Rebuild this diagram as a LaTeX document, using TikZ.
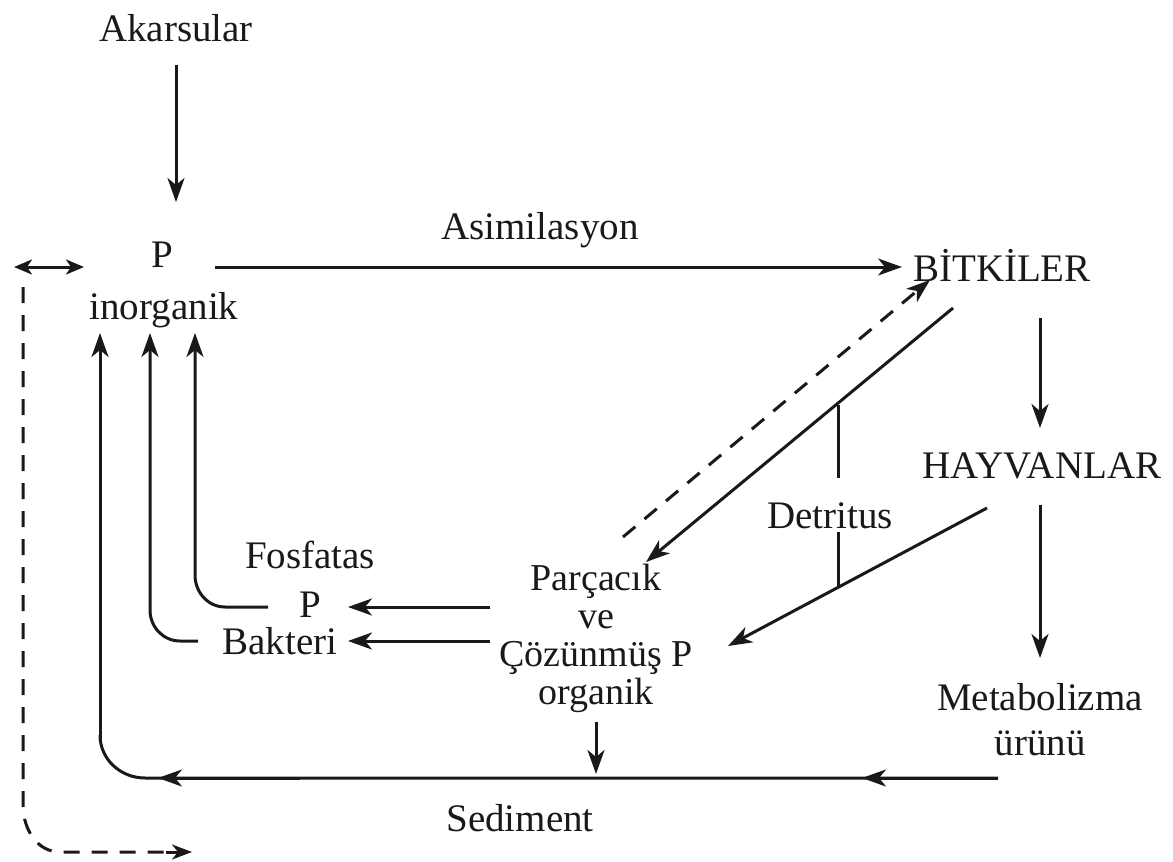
\documentclass[tikz,border=0pt]{standalone}
\usepackage{fontspec}
\setmainfont{Liberation Serif}
\usetikzlibrary{arrows.meta}
\begin{document}
\begin{tikzpicture}[x=1pt,y=-1pt,
  lbl/.style={font=\fontsize{39}{35}\selectfont, inner sep=0pt, align=center, text=black!90},
  tip/.tip={Stealth[length=24pt,width=17pt,inset=7pt]},
  flow/.style={line width=3pt, draw=black!90, -tip},
  plain/.style={line width=3pt, draw=black!90},
  dsh/.style={line width=3pt, draw=black!90, dash pattern=on 16pt off 12pt}]
\useasboundingbox (0,0) rectangle (1173,862);
% texts
\node[lbl] (akar) at (176,28) {Akarsular};
\node[lbl] (Pin) at (162,255) {P};
\node[lbl] (inorg) at (164,310) {inorganik};
\node[lbl] (asim) at (540,230) {Asimilasyon};
\node[lbl] (bit) at (1002,265) {BİTKİLER};
\node[lbl] (hay) at (1042,466) {HAYVANLAR};
\node[lbl] (meta) at (1040,720) {Metabolizma\\[10pt]ürünü};
\node[lbl] (det) at (830,516) {Detritus};
\node[lbl, font=\fontsize{38}{38}\selectfont] (org) at (596,638) {Parçacık\\ve\\Çözünmüş P\\organik};
\node[lbl] (fos) at (310,555) {Fosfatas};
\node[lbl] (Pf) at (310,605) {P};
\node[lbl] (bak) at (280,641) {Bakteri};
\node[lbl] (sed) at (520,818) {Sediment};
% coordinates
\coordinate (a1) at (176,65);
\coordinate (a2) at (176,202);
\coordinate (h1) at (215,267);
\coordinate (h2) at (902,267);
\coordinate (b1) at (1040,318);
\coordinate (b2) at (1040,428);
\coordinate (c1) at (1040,505);
\coordinate (c2) at (1040,658);
\coordinate (ds1) at (623,537);
\coordinate (ds2) at (930,280);
\coordinate (s1) at (953,308);
\coordinate (s2) at (646,562);
\coordinate (hv1) at (987,508);
\coordinate (hv2) at (728,646);
\coordinate (dt1) at (838,405);
\coordinate (dt2) at (838,478);
\coordinate (dt3) at (838,532);
\coordinate (dt4) at (838,588);
\coordinate (pf1) at (490,607);
\coordinate (pf2) at (348,607);
\coordinate (bk1) at (490,641);
\coordinate (bk2) at (348,641);
\coordinate (o1) at (596,722);
\coordinate (o2) at (596,774);
\coordinate (m1) at (998,778);
% main arrows
\draw[flow] (a1) -- (a2);
\draw[flow] (h1) -- (h2);
\draw[flow] (b1) -- (b2);
\draw[flow] (c1) -- (c2);
\draw[dsh, -tip] (ds1) -- (ds2);
\draw[flow] (s1) -- (s2);
\draw[flow] (hv1) -- (hv2);
\draw[plain] (dt1) -- (dt2);
\draw[plain] (dt3) -- (dt4);
\draw[flow] (pf1) -- (pf2);
\draw[flow] (bk1) -- (bk2);
\draw[flow] (o1) -- (o2);
% returns to P inorganik
\draw[flow] (268,607) -- (225,607) to[out=180,in=-90] (195,575) -- (195,333);
\draw[flow] (198,641) -- (180,641) to[out=180,in=-90] (150,610) -- (150,333);
% sediment line
\draw[plain] (m1) -- (145,778) to[out=180,in=-90] (100,735) ;
\draw[flow] (100,740) -- (100,333);
\draw[flow] (m1) -- (862,778);
\draw[flow] (300,778) -- (158,778);
% left dashed loop
\draw[line width=3pt, draw=black!90, {Stealth[length=18pt,width=15pt,inset=5pt]}-{Stealth[length=18pt,width=15pt,inset=5pt]}] (14,267) -- (84,267);
\draw[dsh] (23,287) -- (23,805) to[out=-90,in=180] (60,852) -- (170,852);
\draw[line width=3pt, draw=black!90, -{Stealth[length=20pt,width=15pt,inset=6pt]}] (166,852) -- (192,852);
\end{tikzpicture}
\end{document}
